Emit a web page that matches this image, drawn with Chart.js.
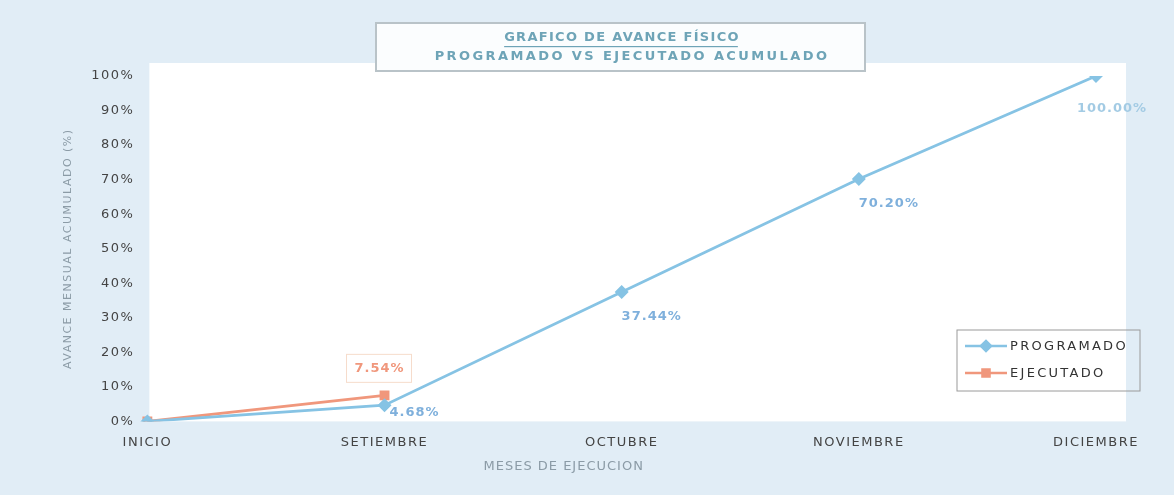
<!DOCTYPE html>
<html>
<head>
<meta charset="utf-8">
<script src="https://cdn.jsdelivr.net/npm/chart.js@4"></script>
<style>
  html, body { margin: 0; padding: 0; background: #e1edf6; }
  #wrap { width: 1174px; height: 495px; position: relative; }
</style>
</head>
<body>
<div id="wrap"><canvas id="chart" width="1174" height="495"></canvas></div>
<script>
const months = ['INICIO', 'SETIEMBRE', 'OCTUBRE', 'NOVIEMBRE', 'DICIEMBRE'];
const programado = [0, 4.68, 37.44, 70.20, 100.00];
const ejecutado = [0, 7.54, null, null, null];
const seriesNames = ['PROGRAMADO', 'EJECUTADO'];
const titleLines = ['GRAFICO DE AVANCE FÍSICO', 'PROGRAMADO VS EJECUTADO ACUMULADO'];
const xTitle = 'MESES DE EJECUCION';

const blue = '#86c3e4';
const salmon = '#f0977c';
const font = '"DejaVu Sans", Verdana, sans-serif';

// wider letter spacing, like the scanned original
const spacing = {
  id: 'spacing',
  beforeUpdate(chart) { chart.ctx.letterSpacing = '1.5px'; },
  beforeDraw(chart) { chart.ctx.letterSpacing = '1.5px'; }
};

// white plot background + title box + x axis title
const background = {
  id: 'background',
  beforeDraw(chart) {
    const { ctx, chartArea: a } = chart;
    ctx.save();
    ctx.fillStyle = '#ffffff';
    ctx.fillRect(a.left + 2, a.top - 13, a.right - a.left + 28, a.bottom - a.top + 13);
    ctx.restore();
  },
  afterDraw(chart) {
    const { ctx, chartArea: a } = chart;
    ctx.save();
    ctx.fillStyle = '#fbfdfe';
    ctx.strokeStyle = '#b9c3c8';
    ctx.lineWidth = 2;
    ctx.fillRect(376, 23, 489, 48);
    ctx.strokeRect(376, 23, 489, 48);
    ctx.fillStyle = '#6ea4b7';
    ctx.textAlign = 'center';
    ctx.textBaseline = 'middle';
    ctx.font = 'bold 13px ' + font;
    ctx.letterSpacing = '1.3px';
    ctx.fillText(titleLines[0], 622, 38);
    const w = ctx.measureText(titleLines[0]).width - 2;
    ctx.fillRect(622 - w / 2 - 1, 46, w, 1.2);
    ctx.letterSpacing = '2.4px';
    ctx.fillText(titleLines[1], 632, 57);

    ctx.font = '13px ' + font;
    ctx.letterSpacing = '1px';
    ctx.fillStyle = '#8b9ba6';
    ctx.fillText(xTitle, (a.left + a.right) / 2 - 58, 467);
    ctx.restore();
  }
};

// value labels and legend box
const labels = {
  id: 'labels',
  afterDatasetsDraw(chart) {
    const ctx = chart.ctx;
    ctx.save();
    ctx.font = 'bold 13px ' + font;
    ctx.letterSpacing = '1px';
    ctx.textAlign = 'center';
    ctx.textBaseline = 'middle';
    const pm = chart.getDatasetMeta(0);
    pm.data.forEach((pt, i) => {
      if (i === 0) return;
      const v = programado[i].toFixed(2) + '%';
      const dy = i === 1 ? 7 : (i === 4 ? 33 : 25);
      const dx = i === 4 ? 16 : 30;
      ctx.fillStyle = i === 4 ? '#a3cbe4' : '#7fb0dc';
      ctx.fillText(v, pt.x + dx, pt.y + dy);
    });
    const em = chart.getDatasetMeta(1);
    const p = em.data[1];
    const txt = ejecutado[1].toFixed(2) + '%';
    ctx.strokeStyle = '#f6dccb';
    ctx.lineWidth = 1;
    ctx.strokeRect(p.x - 38, p.y - 41, 65, 28);
    ctx.fillStyle = salmon;
    ctx.fillText(txt, p.x - 5, p.y - 27);

    // legend
    const lx = 957, ly = 330;
    ctx.strokeStyle = '#9a9a9a';
    ctx.strokeRect(lx, ly, 183, 61);
    ctx.font = '13px ' + font;
    ctx.letterSpacing = '2.3px';
    ctx.textAlign = 'left';
    [[blue, 'rectRot', 0], [salmon, 'rect', 1]].forEach(([c, style, k]) => {
      const yy = ly + 16 + k * 27;
      ctx.strokeStyle = c;
      ctx.lineWidth = 2.5;
      ctx.beginPath();
      ctx.moveTo(lx + 8, yy);
      ctx.lineTo(lx + 50, yy);
      ctx.stroke();
      ctx.fillStyle = c;
      Chart.helpers.drawPoint(ctx, { pointStyle: style, radius: 5, borderWidth: 1 }, lx + 29, yy);
      ctx.fillStyle = '#333';
      ctx.fillText(seriesNames[k], lx + 53, yy + 1);
    });
    ctx.restore();
  }
};

new Chart(document.getElementById('chart'), {
  type: 'line',
  data: {
    labels: months,
    datasets: [
      {
        label: seriesNames[0],
        data: programado,
        borderColor: blue,
        backgroundColor: blue,
        borderWidth: 2.8,
        pointStyle: 'rectRot',
        pointRadius: 5,
        tension: 0
      },
      {
        label: seriesNames[1],
        data: ejecutado,
        borderColor: salmon,
        backgroundColor: salmon,
        borderWidth: 2.8,
        pointStyle: 'rect',
        pointRadius: 5,
        tension: 0
      }
    ]
  },
  options: {
    responsive: false,
    animation: false,
    layout: { padding: { left: 58, right: 78, top: 76, bottom: 40 } },
    plugins: {
      legend: { display: false },
      tooltip: { enabled: false }
    },
    scales: {
      x: {
        offset: false,
        grid: { display: false },
        border: { display: false },
        ticks: { color: '#444', font: { family: font, size: 13 }, padding: 5, maxRotation: 0 }
      },
      y: {
        min: 0,
        max: 100,
        grid: { display: false },
        border: { display: false },
        ticks: { stepSize: 10, color: '#444', font: { family: font, size: 13 }, padding: 5, callback: v => v + '%' },
        title: { display: true, text: 'AVANCE MENSUAL ACUMULADO (%)', color: '#8b9ba6', font: { family: font, size: 11 }, padding: { bottom: 11 } }
      }
    }
  },
  plugins: [spacing, background, labels]
});
</script>
</body>
</html>
